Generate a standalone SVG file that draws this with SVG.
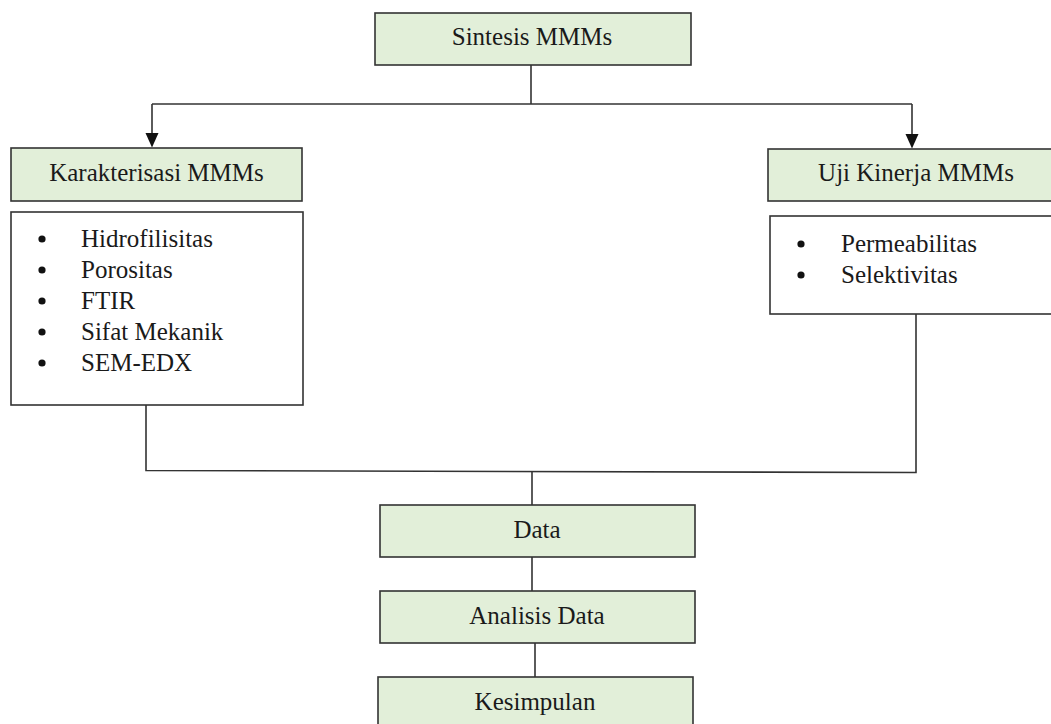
<svg xmlns="http://www.w3.org/2000/svg" width="1051" height="724" viewBox="0 0 1051 724">
<style>
.box{fill:#e2efd9;stroke:#333;stroke-width:1.6}
.list{fill:#fff;stroke:#333;stroke-width:1.6}
.t{font-family:"Liberation Serif","Times New Roman",serif;font-size:25px;fill:#1a1a1a}
.c{text-anchor:middle}
.ln{fill:none;stroke:#333;stroke-width:1.6}
.dot{fill:#111}
.head{fill:#111}
</style>
<rect width="1051" height="724" fill="#fff"/>
<g id="connectors">
<line class="ln" x1="531" y1="65" x2="531" y2="104"/>
<line class="ln" x1="152" y1="104" x2="912" y2="104"/>
<line class="ln" x1="152" y1="104" x2="152" y2="134"/>
<line class="ln" x1="912" y1="104" x2="912" y2="135"/>
<path class="head" d="M145.5,133 L158.5,133 L152,147.5 Z"/>
<path class="head" d="M905.5,134 L918.5,134 L912,148.5 Z"/>
<polyline class="ln" points="146,405 146,470.5 916,472.5 916,314"/>
<line class="ln" x1="532" y1="471" x2="532" y2="505"/>
<line class="ln" x1="532" y1="557" x2="532" y2="591"/>
<line class="ln" x1="535" y1="643" x2="535" y2="677"/>
</g>
<g id="sintesis">
<rect class="box" x="375" y="13" width="316" height="52"/>
<text class="t c" x="532" y="45">Sintesis MMMs</text>
</g>
<g id="karakterisasi">
<rect class="box" x="11" y="148" width="291" height="53"/>
<text class="t c" x="156.5" y="181">Karakterisasi MMMs</text>
</g>
<g id="karakterisasi-list">
<rect class="list" x="11" y="212" width="292" height="193"/>
<circle class="dot" cx="42" cy="239" r="3.6"/>
<circle class="dot" cx="42" cy="270" r="3.6"/>
<circle class="dot" cx="42" cy="301" r="3.6"/>
<circle class="dot" cx="42" cy="332" r="3.6"/>
<circle class="dot" cx="42" cy="363" r="3.6"/>
<text class="t" x="81" y="247">Hidrofilisitas</text>
<text class="t" x="81" y="278">Porositas</text>
<text class="t" x="81" y="309">FTIR</text>
<text class="t" x="81" y="340">Sifat Mekanik</text>
<text class="t" x="81" y="371">SEM-EDX</text>
</g>
<g id="uji">
<rect class="box" x="768" y="149" width="296" height="52"/>
<text class="t c" x="916" y="181">Uji Kinerja MMMs</text>
</g>
<g id="uji-list">
<rect class="list" x="770" y="216" width="294" height="98"/>
<circle class="dot" cx="801" cy="244" r="3.6"/>
<circle class="dot" cx="801" cy="275" r="3.6"/>
<text class="t" x="841" y="252">Permeabilitas</text>
<text class="t" x="841" y="283">Selektivitas</text>
</g>
<g id="data">
<rect class="box" x="380" y="505" width="315" height="52"/>
<text class="t c" x="537" y="538">Data</text>
</g>
<g id="analisis">
<rect class="box" x="380" y="591" width="315" height="52"/>
<text class="t c" x="537" y="624">Analisis Data</text>
</g>
<g id="kesimpulan">
<rect class="box" x="378" y="677" width="315" height="52"/>
<text class="t c" x="535" y="710">Kesimpulan</text>
</g>
</svg>
